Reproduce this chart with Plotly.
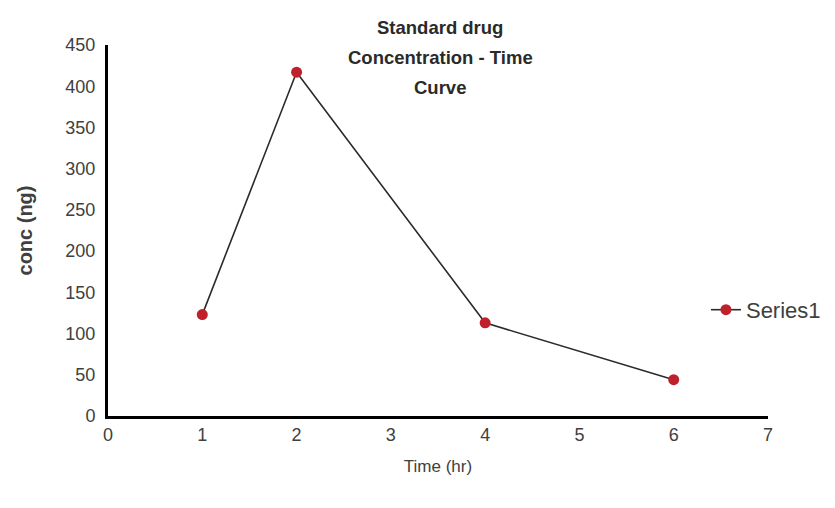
import plotly.graph_objects as go

time_hr = [1, 2, 4, 6]
conc_ng = [123, 417, 113, 44]
x_ticks = [0, 1, 2, 3, 4, 5, 6, 7]
y_ticks = [0, 50, 100, 150, 200, 250, 300, 350, 400, 450]
title_lines = ["Standard drug", "Concentration - Time", "Curve"]

fig = go.Figure()
fig.add_trace(go.Scatter(
    x=time_hr, y=conc_ng, mode="lines+markers", name="Series1",
    line=dict(color="#2b2b2b", width=1.6),
    marker=dict(color="#c0202a", size=11),
))

font_family = "Liberation Sans, Arial, sans-serif"
plot_top, plot_bottom = 45, 416
for i, line in enumerate(title_lines):
    py = 27 + 30 * i
    fig.add_annotation(
        text=line, xref="paper", yref="paper",
        x=(440 - 108) / 660, y=(plot_bottom - py) / (plot_bottom - plot_top),
        xanchor="center", yanchor="middle", showarrow=False,
        font=dict(size=18.5, color="#2a2a2a", family=font_family, weight="bold"),
    )

fig.update_layout(
    width=835, height=508,
    margin=dict(l=108, r=67, t=45, b=92, autoexpand=False),
    paper_bgcolor="white", plot_bgcolor="white",
    font=dict(family=font_family, size=18, color="#404040"),
    showlegend=True,
    legend=dict(x=0.906, y=0.286, xanchor="left", yanchor="middle",
                bgcolor="rgba(0,0,0,0)", font=dict(size=22, color="#404040")),
    xaxis=dict(
        range=[0, 7], tickvals=x_ticks, showgrid=False, zeroline=False,
        showline=True, linecolor="black", linewidth=3, ticks="",
        ticklabelstandoff=0, tickfont=dict(size=18),
        title=dict(text="Time (hr)", font=dict(size=17, color="#404040"), standoff=17),
    ),
    yaxis=dict(
        range=[0, 450], tickvals=y_ticks, showgrid=False, zeroline=False,
        showline=True, linecolor="black", linewidth=3, ticks="",
        ticklabelstandoff=6, tickfont=dict(size=18),
        title=dict(text="conc (ng)", font=dict(size=20, color="#404040", weight="bold"), standoff=28),
    ),
)

fig.write_html("out.html")
